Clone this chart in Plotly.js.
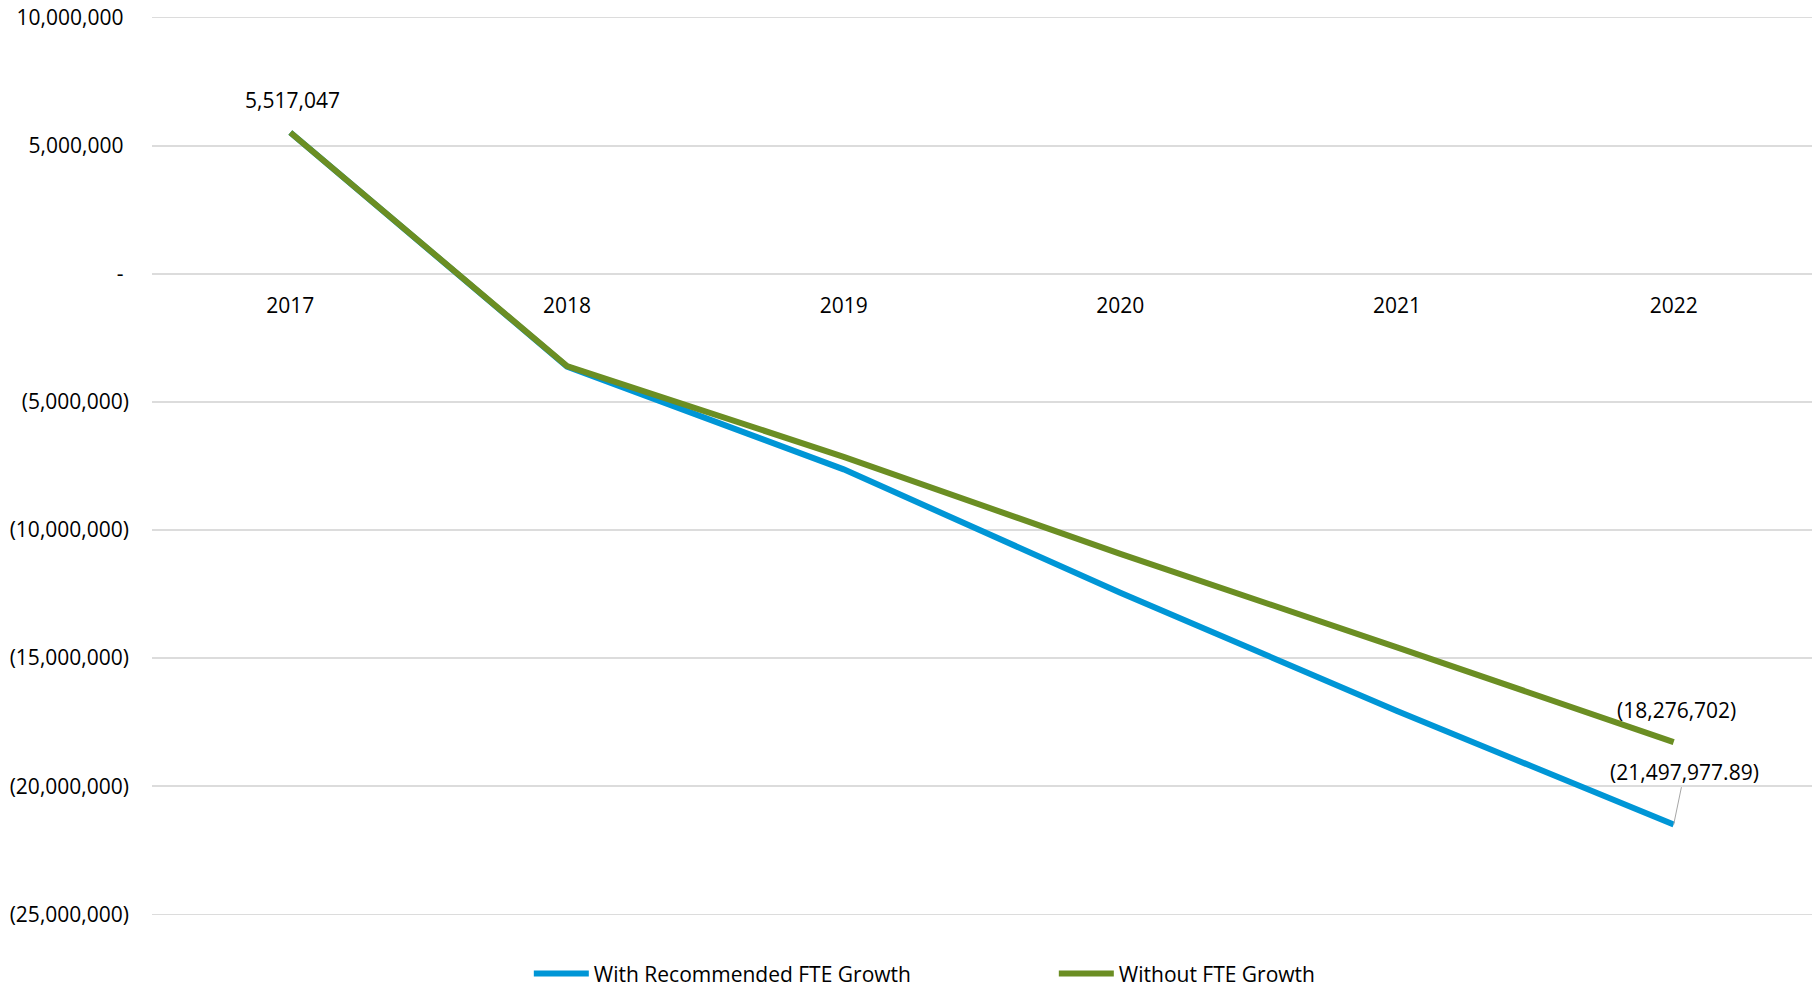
<!DOCTYPE html>
<html>
<head>
<meta charset="utf-8">
<script src="https://cdn.plot.ly/plotly-3.0.1.min.js"></script>
<style>
  html, body { margin: 0; padding: 0; background: #ffffff; }
  #chart { width: 1812px; height: 987px; }
</style>
</head>
<body>
<div id="chart"></div>
<script>
// Fiscal years on the category axis
const years = ['2017', '2018', '2019', '2020', '2021', '2022'];

// Projected balance with the recommended FTE growth
const withGrowth = [5517047, -3620000, -7630000, -12450000, -17060000, -21497977.89];

// Projected balance without FTE growth
const withoutGrowth = [5517047, -3600000, -7140000, -10930000, -14580000, -18276702];

// Value axis ticks and their accounting-style labels
const yTickVals = [10000000, 5000000, 0, -5000000, -10000000, -15000000, -20000000, -25000000];
const yTickText = ['10,000,000', '5,000,000', '-', '(5,000,000)', '(10,000,000)', '(15,000,000)', '(20,000,000)', '(25,000,000)'];

const seriesNames = ['With Recommended FTE Growth', 'Without FTE Growth'];
const seriesColors = ['#0096D6', '#6B8E23'];

const FONT = '"Open Sans", "Noto Sans", sans-serif';
const FS = 21;
const TEXT = '#000000';

// Accounting format: negatives in parentheses, cents only when present
function accounting(v) {
  const abs = Math.abs(v);
  const hasCents = Math.round(abs * 100) % 100 !== 0;
  const s = abs.toLocaleString('en-US', {
    minimumFractionDigits: hasCents ? 2 : 0,
    maximumFractionDigits: hasCents ? 2 : 0
  });
  return v < 0 ? '(' + s + ')' : s;
}

// Pad labels without a closing parenthesis so the digits line up
const yTickLabels = yTickText.map(t => t.endsWith(')') ? t : t + '\u00a0');

const traces = [
  {
    x: years, y: withGrowth, name: seriesNames[0], type: 'scatter', mode: 'lines',
    line: { color: seriesColors[0], width: 6 }, hoverinfo: 'skip'
  },
  {
    x: years, y: withoutGrowth, name: seriesNames[1], type: 'scatter', mode: 'lines',
    line: { color: seriesColors[1], width: 6 }, hoverinfo: 'skip'
  }
];

// Data labels; x is given as the category index on the category axis
const first = 0;
const last = years.length - 1;
const labelFont = { family: FONT, size: FS, color: TEXT };
const annotations = [
  {
    xref: 'x', yref: 'y', x: first, y: withoutGrowth[first], text: accounting(withoutGrowth[first]),
    showarrow: false, yshift: 33, xshift: 2, font: labelFont
  },
  {
    xref: 'x', yref: 'y', x: last, y: withoutGrowth[last], text: accounting(withoutGrowth[last]),
    showarrow: false, yshift: 32, xshift: 3, font: labelFont
  },
  {
    xref: 'x', yref: 'y', x: last, y: withGrowth[last], text: accounting(withGrowth[last]),
    showarrow: true, arrowhead: 0, arrowwidth: 1, arrowcolor: '#A6A6A6',
    ax: 11, ay: -53, standoff: 0, font: labelFont
  }
];

const yMin = -25300000, yMax = 10300000;
const zeroPos = (0 - yMin) / (yMax - yMin);

const layout = {
  width: 1812, height: 987,
  margin: { l: 152, r: 0, t: 10.32, b: 65.32, autoexpand: false },
  paper_bgcolor: '#ffffff', plot_bgcolor: '#ffffff',
  font: { family: FONT, size: FS, color: TEXT },
  showlegend: true,
  legend: {
    orientation: 'h', x: 0.227, xanchor: 'left', y: -0.0568, yanchor: 'middle',
    font: labelFont, itemwidth: 55, entrywidth: 455, entrywidthmode: 'pixels',
    traceorder: 'normal'
  },
  // Category axis crossing the value axis at zero
  xaxis: {
    type: 'category', range: [-0.5, 5.5],
    anchor: 'free', position: zeroPos,
    showline: false, showgrid: false, zeroline: false, ticks: '',
    ticklabelstandoff: 17, tickfont: labelFont, fixedrange: true
  },
  yaxis: {
    range: [yMin, yMax], tickmode: 'array', tickvals: yTickVals, ticktext: yTickLabels,
    showgrid: true, gridcolor: '#DCDCDC', gridwidth: 1.5,
    zeroline: false, showline: false, ticks: '',
    ticklabelstandoff: 22, tickfont: labelFont, fixedrange: true
  },
  annotations: annotations
};

Plotly.newPlot('chart', traces, layout, { displayModeBar: false, staticPlot: true });
</script>
</body>
</html>
